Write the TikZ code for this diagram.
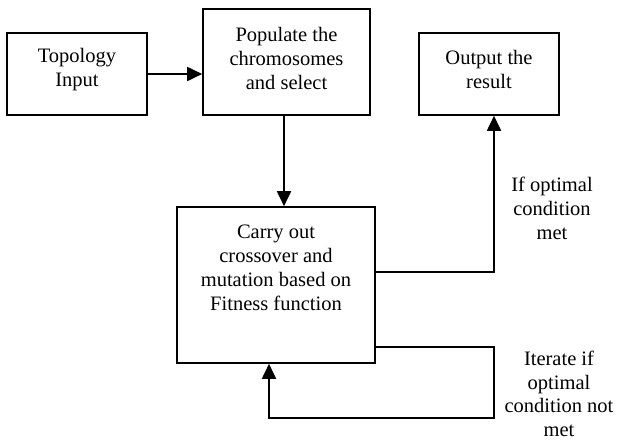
\documentclass[tikz,border=0pt]{standalone}
\usepackage{fontspec}
\setmainfont{Liberation Serif}
\usetikzlibrary{arrows.meta}

\begin{document}
\begin{tikzpicture}[x=1pt, y=-1pt,
  box/.style={draw, line width=1.6pt, rectangle, inner sep=0pt},
  txt/.style={align=center, inner sep=0pt, font=\fontsize{20.5}{24}\selectfont},
  arr/.style={line width=1.8pt, -{Triangle[length=15pt, width=14pt]}}]
  \useasboundingbox (0,0) rectangle (617,441);

  % process boxes
  \node[box, minimum width=140pt, minimum height=82pt]  (topo)  at (77,74)    {};
  \node[box, minimum width=167pt, minimum height=106pt] (pop)   at (286.5,62) {};
  \node[box, minimum width=140pt, minimum height=82pt]  (out)   at (489,74)   {};
  \node[box, minimum width=198pt, minimum height=156pt] (carry) at (276,285)  {};

  % box texts
  \node[txt] (topoT)  at (77,69.5)  {Topology\\Input};
  \node[txt] (popT)   at (286.5,58) {Populate the\\chromosomes\\and select};
  \node[txt] (outT)   at (489,69.5) {Output the\\result};
  \node[txt] (carryT) at (276,268)  {Carry out\\crossover and\\mutation based on\\Fitness function};

  % side labels
  \node[txt] (metL)  at (552,208) {If optimal\\condition\\met};
  \node[txt, font=\fontsize{20.5}{23.5}\selectfont] (iterL) at (559,394) {Iterate if\\optimal\\condition not\\met};

  % bends of the connectors
  \coordinate (c1) at (494,272);
  \coordinate (c2) at (494,347);
  \coordinate (c3) at (494,418);
  \coordinate (c4) at (269,418);

  % connectors
  \draw[arr] (topo.east) -- (pop.west |- topo.east);
  \draw[arr] ([xshift=-2.5pt]pop.south) -- ([xshift=-2.5pt]pop.south |- carry.north);
  \draw[arr] (carry.east |- c1) -- (c1) -- (out.south -| c1);
  \draw[arr] (carry.east |- c2) -- (c2) -- (c3) -- (c4) -- (c4 |- carry.south);
\end{tikzpicture}
\end{document}
